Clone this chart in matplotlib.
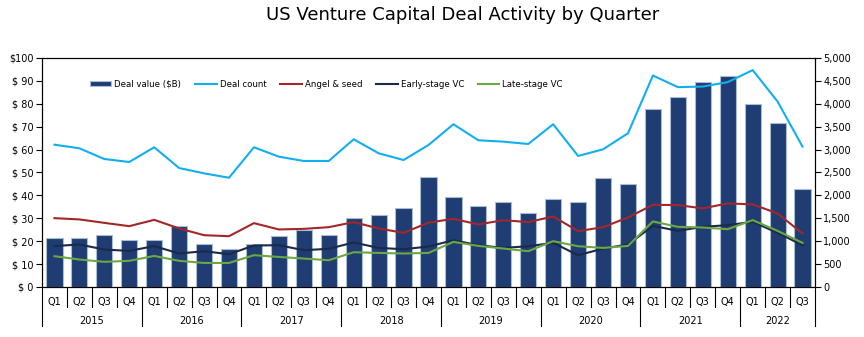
import matplotlib
matplotlib.use('Agg')
import matplotlib.pyplot as plt
import matplotlib.transforms as mtransforms
import numpy as np

# quarterly data, 2015 Q1 .. 2022 Q3
years = ['2015', '2016', '2017', '2018', '2019', '2020', '2021', '2022']
quarters = ['Q1', 'Q2', 'Q3', 'Q4']
n_quarters = 31

deal_value = [21.2, 21.2, 22.5, 20.7, 20.7, 26.7, 18.6, 16.5, 18.6, 22.2, 25.1, 22.8,
              30.0, 31.5, 34.7, 47.9, 39.3, 35.4, 37.3, 32.5, 38.3, 37.3, 47.6, 44.8,
              77.5, 83.0, 89.6, 92.2, 79.8, 71.7, 42.6]
deal_count = [3107, 3028, 2794, 2729, 3050, 2597, 2481, 2385, 3050, 2845, 2751, 2751,
              3225, 2919, 2772, 3100, 3553, 3203, 3173, 3122, 3553, 2860, 3006, 3356,
              4617, 4363, 4376, 4472, 4735, 4048, 3063]
angel_seed = [1503, 1475, 1400, 1328, 1466, 1278, 1131, 1109, 1394, 1256, 1269, 1306,
              1416, 1278, 1182, 1405, 1488, 1365, 1459, 1416, 1540, 1219, 1306, 1518,
              1794, 1788, 1716, 1825, 1803, 1606, 1168]
early_vc = [893, 928, 818, 788, 893, 731, 781, 716, 906, 912, 803, 834,
            972, 853, 825, 883, 1022, 912, 853, 890, 963, 694, 838, 928,
            1335, 1225, 1313, 1350, 1422, 1182, 912]
late_vc = [672, 600, 549, 571, 678, 571, 525, 525, 694, 656, 621, 584,
           759, 744, 731, 744, 985, 897, 840, 781, 1000, 890, 853, 897,
           1431, 1313, 1299, 1262, 1459, 1225, 963]

x = np.arange(n_quarters)

plt.rcParams['font.family'] = ['DejaVu Sans']

fig = plt.figure(figsize=(8.64, 3.37), dpi=100)
ax = fig.add_axes([0.0486, 0.1484, 0.8947, 0.6796])
ax2 = ax.twinx()

bars = ax.bar(x, deal_value, width=0.65, color='#1F3D72', edgecolor='#A9BCD6',
              linewidth=0.8, label='Deal value ($B)', zorder=2)

l1, = ax2.plot(x, deal_count, color='#12AEEF', lw=1.5, label='Deal count')
l2, = ax2.plot(x, angel_seed, color='#A3272A', lw=1.5, label='Angel & seed')
l3, = ax2.plot(x, early_vc, color='#1B2A4A', lw=1.5, label='Early-stage VC')
l4, = ax2.plot(x, late_vc, color='#6BA843', lw=1.5, label='Late-stage VC')

ax.set_xlim(-0.5, n_quarters - 0.5)
ax.set_ylim(0, 100)
ax2.set_ylim(0, 5000)

ax.set_yticks(np.arange(0, 101, 10))
ax.set_yticklabels(['$100' if v == 100 else '$ %d' % v for v in range(0, 101, 10)])
ax2.set_yticks(np.arange(0, 5001, 500))
ax2.set_yticklabels(['{:,}'.format(v) for v in range(0, 5001, 500)])
ax.tick_params(axis='y', labelsize=7, length=4, width=0.8, direction='out', pad=2)
ax2.tick_params(axis='y', labelsize=7, length=4, width=0.8, direction='out', pad=2)

for a in (ax, ax2):
    for s in a.spines.values():
        s.set_linewidth(0.8)
        s.set_color('black')

# two level category axis
ax.set_xticks([])
trans = mtransforms.blended_transform_factory(ax.transData, ax.transAxes)
for i in range(n_quarters):
    ax.text(x[i], -0.064, quarters[i % 4], transform=trans, ha='center', va='center',
            fontsize=7)
for i in range(n_quarters + 1):
    is_year = (i % 4 == 0) or i == n_quarters
    y_end = -0.17 if is_year else -0.086
    ax.plot([i - 0.5, i - 0.5], [0, y_end], transform=trans, color='black',
            lw=0.8, clip_on=False)
for k, yr in enumerate(years):
    start = k * 4
    stop = min(start + 4, n_quarters)
    ax.text((start + stop - 1) / 2, -0.147, yr, transform=trans, ha='center',
            va='center', fontsize=7)

ax2.legend([bars, l1, l2, l3, l4],
           ['Deal value ($B)', 'Deal count', 'Angel & seed', 'Early-stage VC', 'Late-stage VC'],
           loc='center left', bbox_to_anchor=(0.062, 0.886), ncol=5, frameon=False,
           fontsize=6.2, handlelength=2.5, handleheight=0.5, handletextpad=0.35,
           columnspacing=1.6, borderaxespad=0, borderpad=0)

fig.text(0.535, 0.955, 'US Venture Capital Deal Activity by Quarter', ha='center',
         va='center', fontsize=13)

fig.savefig('out.png', dpi=100)
